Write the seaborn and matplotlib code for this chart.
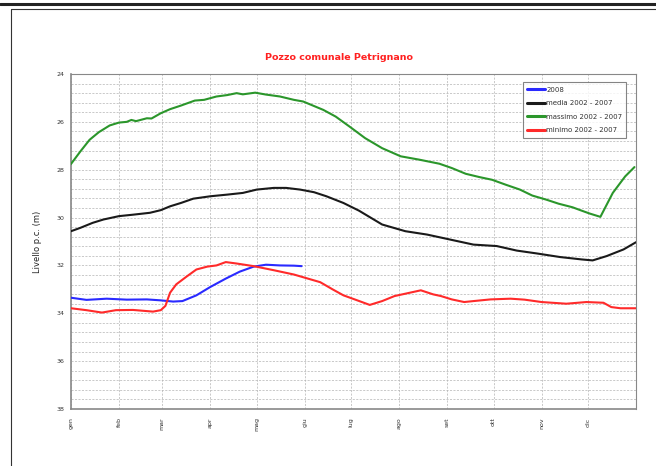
import numpy as np
import pandas as pd
import matplotlib
matplotlib.use("Agg")
import matplotlib.pyplot as plt
from matplotlib.lines import Line2D
from matplotlib.ticker import MultipleLocator, FixedLocator
import seaborn as sns

# Livello di falda (m dal piano campagna), giorno dell'anno sull'asse x
giorni_2008 = [0, 10, 23, 36, 49, 58, 66, 72, 81, 90, 100, 109, 118, 126, 135, 144, 149]
livello_2008 = [33.35, 33.44, 33.39, 33.43, 33.42, 33.46, 33.51, 33.49, 33.25, 32.90,
                32.55, 32.26, 32.05, 31.97, 32.00, 32.01, 32.03]

giorni_media = [0, 6, 14, 21, 31, 40, 51, 58, 64, 71, 79, 90, 101, 111, 120, 131, 139,
                148, 157, 165, 176, 186, 201, 216, 230, 245, 260, 275, 288, 301, 316,
                330, 337, 346, 357, 365]
livello_media = [30.57, 30.43, 30.22, 30.08, 29.94, 29.88, 29.80, 29.69, 29.53, 29.39,
                 29.21, 29.11, 29.04, 28.97, 28.83, 28.76, 28.76, 28.83, 28.94, 29.11,
                 29.39, 29.71, 30.29, 30.57, 30.71, 30.92, 31.13, 31.19, 31.38, 31.50,
                 31.65, 31.75, 31.79, 31.61, 31.33, 31.03]

giorni_massimo = [0, 6, 12, 18, 25, 31, 36, 39, 42, 49, 52, 58, 64, 71, 80, 86, 94,
                  101, 107, 111, 119, 126, 135, 144, 150, 163, 171, 180, 190, 201, 213,
                  225, 238, 246, 255, 264, 272, 281, 290, 298, 307, 315, 324, 329, 335,
                  342, 350, 358, 364]
livello_massimo = [27.76, 27.24, 26.75, 26.43, 26.15, 26.03, 26.00, 25.92, 25.97, 25.85,
                   25.86, 25.64, 25.47, 25.32, 25.11, 25.08, 24.94, 24.88, 24.80, 24.85,
                   24.78, 24.86, 24.94, 25.08, 25.15, 25.50, 25.78, 26.20, 26.68, 27.10,
                   27.44, 27.58, 27.75, 27.93, 28.17, 28.31, 28.42, 28.63, 28.83, 29.08,
                   29.25, 29.42, 29.57, 29.69, 29.83, 29.97, 28.97, 28.28, 27.89]

giorni_minimo = [0, 10, 20, 29, 40, 53, 58, 61, 64, 68, 75, 81, 88, 94, 100, 107, 118,
                 131, 144, 161, 169, 176, 182, 193, 201, 209, 226, 234, 239, 246, 254,
                 260, 271, 284, 293, 304, 320, 333, 344, 349, 355, 360, 365]
livello_minimo = [33.79, 33.87, 33.97, 33.87, 33.86, 33.93, 33.87, 33.69, 33.14, 32.79,
                  32.45, 32.17, 32.05, 32.00, 31.86, 31.92, 32.03, 32.20, 32.38, 32.70,
                  33.00, 33.25, 33.39, 33.65, 33.49, 33.28, 33.04, 33.21, 33.28, 33.42,
                  33.53, 33.49, 33.42, 33.39, 33.43, 33.53, 33.60, 33.53, 33.56, 33.74,
                  33.79, 33.79, 33.79]

serie = ["2008", "media 2002 - 2007", "massimo 2002 - 2007", "minimo 2002 - 2007"]
colori = ["#2a2aff", "#1a1a1a", "#2b962b", "#ff2a2a"]

mesi = ["gen", "feb", "mar", "apr", "mag", "giu", "lug", "ago", "set", "ott", "nov", "dic"]
inizio_mesi = [0, 31, 59, 90, 120, 151, 181, 212, 243, 273, 304, 334]

frames = []
for nome, gg, lv in zip(serie,
                        [giorni_2008, giorni_media, giorni_massimo, giorni_minimo],
                        [livello_2008, livello_media, livello_massimo, livello_minimo]):
    frames.append(pd.DataFrame({"giorno": gg, "livello": lv, "serie": nome}))
df = pd.concat(frames, ignore_index=True)

sns.set_style("white")
plt.rcParams["font.family"] = ["DejaVu Sans"]

fig = plt.figure(figsize=(6.56, 4.66), dpi=100)
ax = fig.add_axes([71 / 656, 1 - 409 / 466, 565 / 656, 335 / 466])

sns.lineplot(data=df, x="giorno", y="livello", hue="serie", hue_order=serie,
             palette=dict(zip(serie, colori)), estimator=None, linewidth=1.5,
             ax=ax, zorder=3)

ax.set_xlim(0, 365)
ax.set_ylim(38, 24)

ax.yaxis.set_major_locator(MultipleLocator(2))
ax.yaxis.set_minor_locator(MultipleLocator(0.4))
ax.xaxis.set_major_locator(FixedLocator(inizio_mesi))
ax.set_xticklabels(mesi, rotation=90, fontsize=4.5, color="#333333")
ax.tick_params(axis="y", which="major", labelsize=4.5, labelcolor="#333333",
               length=3, width=0.6, color="#777777", pad=2)
ax.tick_params(axis="y", which="minor", length=0)
ax.tick_params(axis="x", which="major", length=4, width=0.6, color="#777777", pad=2)

ax.grid(True, which="both", axis="y", linestyle=(0, (3, 2)), linewidth=0.5, color="#b4b4b4")
ax.grid(True, which="major", axis="x", linestyle=(0, (3, 2)), linewidth=0.5, color="#b4b4b4")

for s in ax.spines.values():
    s.set_color("#888888")
    s.set_linewidth(0.8)
ax.spines["left"].set_linewidth(1.2)
ax.spines["bottom"].set_linewidth(1.2)

ax.set_xlabel("")
ax.set_ylabel("Livello p.c. (m)", fontsize=6, color="#222222", labelpad=10)

ax.set_title("Pozzo comunale Petrignano", color="#ff2020", fontsize=6.8,
             fontweight="bold", pad=10, x=0.475)

leg = ax.legend(loc="upper right", bbox_to_anchor=(0.983, 0.975), fontsize=5,
                frameon=True, fancybox=False, handlelength=2.6, handletextpad=0.1,
                borderpad=0.6, labelspacing=1.1, borderaxespad=0)
leg.get_frame().set_edgecolor("#666666")
leg.get_frame().set_linewidth(0.8)
for h in leg.get_lines():
    h.set_linewidth(2.2)
for t in leg.get_texts():
    t.set_color("#333333")

# cornice della pagina
fig.add_artist(Line2D([0, 1], [1 - 4 / 466, 1 - 4 / 466], color="#222222", linewidth=2.2))
fig.add_artist(Line2D([11 / 656, 1], [1 - 9 / 466, 1 - 9 / 466], color="#333333", linewidth=0.8))
fig.add_artist(Line2D([11 / 656, 11 / 656], [0, 1 - 9 / 466], color="#333333", linewidth=0.8))

fig.savefig("out.png", dpi=100)
